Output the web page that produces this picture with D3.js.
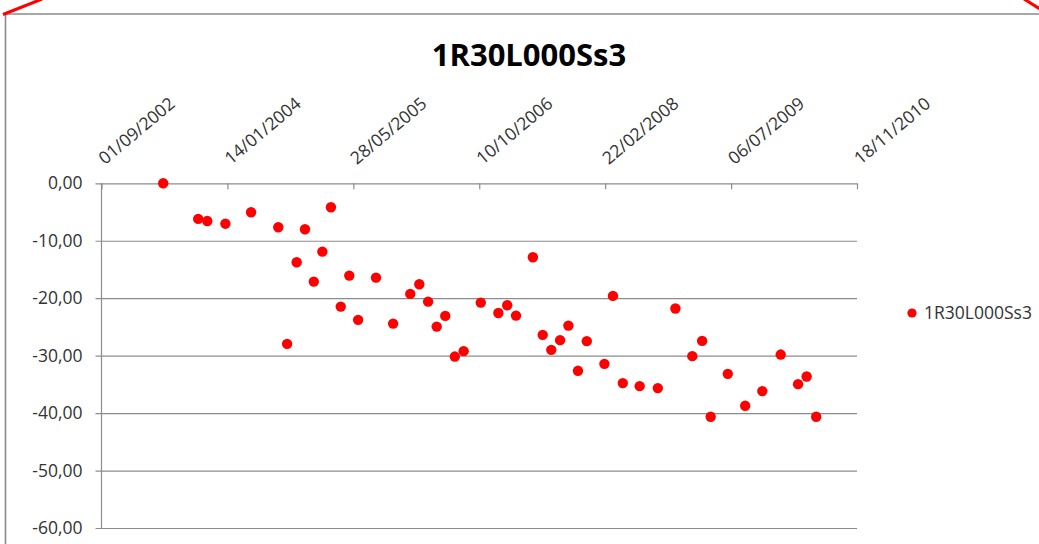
<!DOCTYPE html>
<html>
<head>
<meta charset="utf-8">
<script src="https://cdn.jsdelivr.net/npm/d3@7"></script>
<style>
  body { margin: 0; background: #fff; }
  svg { display: block; }
</style>
</head>
<body>
<div id="chart"></div>
<script>
// Daten
const seriesName = "1R30L000Ss3";
const dates = [
  "04/05/2003", "20/09/2003", "26/10/2003", "06/01/2004", "17/04/2004",
  "03/08/2004", "07/09/2004", "15/10/2004", "17/11/2004", "22/12/2004",
  "25/01/2005", "28/02/2005", "08/04/2005", "12/05/2005", "16/06/2005",
  "26/08/2005", "02/11/2005", "09/01/2006", "14/02/2006", "21/03/2006",
  "24/04/2006", "28/05/2006", "05/07/2006", "09/08/2006", "16/10/2006",
  "25/12/2006", "29/01/2007", "05/03/2007", "11/05/2007", "19/06/2007",
  "23/07/2007", "27/08/2007", "29/09/2007", "06/11/2007", "11/12/2007",
  "19/02/2008", "24/03/2008", "02/05/2008", "08/07/2008", "18/09/2008",
  "27/11/2008", "02/02/2009", "13/03/2009", "16/04/2009", "23/06/2009",
  "31/08/2009", "07/11/2009", "19/01/2010", "29/03/2010", "02/05/2010",
  "09/06/2010"
];
const values = [
  0.00, -6.20, -6.56, -7.03, -5.04,
  -7.65, -27.95, -13.74, -8.00, -17.11,
  -11.90, -4.17, -21.46, -16.07, -23.77,
  -16.42, -24.42, -19.25, -17.57, -20.59,
  -24.94, -23.08, -30.16, -29.22, -20.77,
  -22.57, -21.22, -23.03, -12.87, -26.38,
  -28.99, -27.30, -24.77, -32.64, -27.48,
  -31.43, -19.60, -34.78, -35.30, -35.65,
  -21.80, -30.09, -27.43, -40.64, -33.17,
  -38.73, -36.17, -29.81, -34.96, -33.63,
  -40.64
];
const xTickLabels = ["01/09/2002", "14/01/2004", "28/05/2005", "10/10/2006",
                     "22/02/2008", "06/07/2009", "18/11/2010"];
const yTicks = [0, -10, -20, -30, -40, -50, -60];

const width = 1039, height = 544;
const labelFont = "'Open Sans', sans-serif";
const parseDate = d3.utcParse("%d/%m/%Y");
const locale = d3.formatLocale({ decimal: ",", thousands: ".", grouping: [3], currency: ["", " €"], minus: "-" });
const fmtY = locale.format(".2f");

const points = dates.map((d, i) => ({ date: parseDate(d), value: values[i] }));
const xTicks = xTickLabels.map(parseDate);

const svg = d3.select("#chart").append("svg")
  .attr("width", width)
  .attr("height", height)
  .style("font-family", labelFont);

// Plotbereich
const plot = { left: 101.5, right: 857, top: 183.3, bottom: 528 };

const x = d3.scaleUtc()
  .domain([xTicks[0], xTicks[xTicks.length - 1]])
  .range([plot.left, plot.right]);
const y = d3.scaleLinear()
  .domain([-60, 0])
  .range([plot.bottom, plot.top]);

// Rahmen des Diagramms (abgeschnitten)
svg.append("path")
  .attr("d", `M5.5,${height} L5.5,14 L${width},14`)
  .style("fill", "none")
  .style("stroke", "#8a8a8a")
  .style("stroke-width", "1.6px");

// rote Ecklinien
svg.append("line")
  .attr("x1", 3).attr("y1", 14.5).attr("x2", 42).attr("y2", -1)
  .style("stroke", "#ff0000").style("stroke-width", "3px");
svg.append("line")
  .attr("x1", 1024).attr("y1", -1).attr("x2", 1040).attr("y2", 9)
  .style("stroke", "#ff0000").style("stroke-width", "3px");

// Titel
svg.append("text")
  .attr("x", 529)
  .attr("y", 66)
  .attr("text-anchor", "middle")
  .style("font-size", "31px")
  .style("font-weight", "700")
  .style("fill", "#000")
  .text(seriesName);

// Gitterlinien + Y-Achse
const yAxis = d3.axisLeft(y)
  .tickValues(yTicks)
  .tickSize(6)
  .tickPadding(13)
  .tickFormat(fmtY);

const gy = svg.append("g")
  .attr("transform", `translate(${plot.left},0)`)
  .call(yAxis)
  .attr("font-size", null)
  .attr("font-family", null)
  .style("font-size", "17.5px")
  .style("font-family", labelFont);
gy.select(".domain").remove();
gy.selectAll(".tick line")
  .attr("x1", -6)
  .attr("x2", plot.right - plot.left)
  .style("stroke", "#8c8c8c")
  .style("stroke-width", "1.2px");
gy.selectAll(".tick text")
  .style("fill", "#333");

svg.append("line")
  .attr("x1", plot.left).attr("x2", plot.left)
  .attr("y1", plot.top).attr("y2", plot.bottom)
  .style("stroke", "#8c8c8c")
  .style("stroke-width", "1.2px");

// X-Achse oben (bei 0)
const xAxis = d3.axisBottom(x)
  .tickValues(xTicks)
  .tickSize(6)
  .tickFormat(d3.utcFormat("%d/%m/%Y"));

const gx = svg.append("g")
  .attr("transform", `translate(0,${y(0)})`)
  .call(xAxis)
  .attr("font-size", null)
  .attr("font-family", null)
  .style("font-size", "17.5px")
  .style("font-family", labelFont);
gx.select(".domain").remove();
gx.selectAll(".tick line")
  .style("stroke", "#8c8c8c")
  .style("stroke-width", "1.2px");
gx.selectAll(".tick text")
  .attr("y", 0)
  .attr("dy", 0)
  .attr("text-anchor", "start")
  .attr("transform", "translate(3,-18) rotate(-40)")
  .style("fill", "#333");

// Punkte
svg.append("g")
  .selectAll("circle")
  .data(points)
  .join("circle")
  .attr("cx", d => x(d.date))
  .attr("cy", d => y(d.value))
  .attr("r", 5.2)
  .style("fill", "#ff0000");

// Legende
const legend = svg.append("g").attr("transform", "translate(912,313)");
legend.append("circle")
  .attr("r", 4.6)
  .style("fill", "#ff0000");
legend.append("text")
  .attr("x", 12)
  .attr("y", 0)
  .attr("dy", "0.35em")
  .style("font-size", "17.5px")
  .style("fill", "#333")
  .text(seriesName);
</script>
</body>
</html>
